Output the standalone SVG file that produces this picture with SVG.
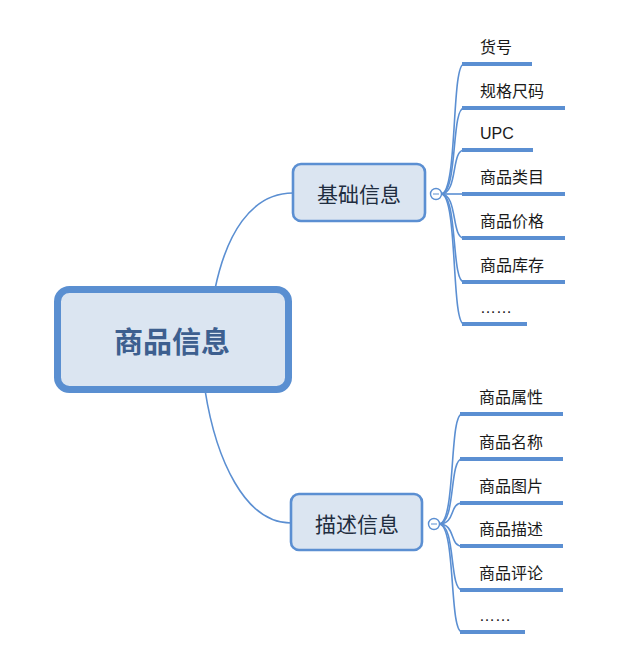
<svg xmlns="http://www.w3.org/2000/svg" width="640" height="663" viewBox="0 0 640 663">
<style>
.conn{fill:none;stroke:#5b8fd2;stroke-width:1.6}
.ul{stroke:#5b8fd2;stroke-width:4;stroke-linecap:butt}
.leaf{font-family:"Liberation Sans","Noto Sans CJK SC",sans-serif;font-size:16px;fill:#1a1a1a}
.sub{fill:#dbe5f1;stroke:#5b8fd2;stroke-width:2.6}
.subt{font-family:"Noto Sans CJK SC",sans-serif;font-size:21px;fill:#1f2d40;text-anchor:middle;dominant-baseline:central}
.tog{fill:#ffffff;stroke:#5b8fd2;stroke-width:1.4}
</style>
<rect width="640" height="663" fill="#ffffff"/>
<g id="connectors">
<path class="conn" d="M215,289 C226,236 250,193 293,193"/>
<path class="conn" d="M205,390 C216,460 245,523 291,523"/>
<path class="conn" d="M441,194 C458,194 451,64 464,64"/>
<path class="conn" d="M441,194 C458,194 451,108 464,108"/>
<path class="conn" d="M441,194 C458,194 451,150 464,150"/>
<path class="conn" d="M441,194 L464,194"/>
<path class="conn" d="M441,194 C458,194 451,238 464,238"/>
<path class="conn" d="M441,194 C458,194 451,282 464,282"/>
<path class="conn" d="M441,194 C458,194 451,324 464,324"/>
<path class="conn" d="M439,524 C456,524 449,414 462,414"/>
<path class="conn" d="M439,524 C456,524 449,459 462,459"/>
<path class="conn" d="M439,524 C456,524 449,503 462,503"/>
<path class="conn" d="M439,524 C456,524 449,546 462,546"/>
<path class="conn" d="M439,524 C456,524 449,590 462,590"/>
<path class="conn" d="M439,524 C456,524 449,632 462,632"/>
</g>
<g id="root">
<rect x="57.5" y="289.5" width="231" height="100" rx="12" fill="#dbe5f1" stroke="#5a8fd1" stroke-width="7"/>
<text x="172" y="340" font-family="Noto Sans CJK SC, sans-serif" font-size="29" font-weight="bold" fill="#3d5f8f" text-anchor="middle" dominant-baseline="central">商品信息</text>
</g>
<g id="basic">
<rect class="sub" x="293" y="164" width="132" height="57" rx="8"/>
<text class="subt" x="359" y="193">基础信息</text>
<circle class="tog" cx="436" cy="194" r="5.5"/>
<line x1="433" y1="194" x2="439" y2="194" stroke="#5b8fd2" stroke-width="1"/>
</g>
<g id="desc">
<rect class="sub" x="291" y="494" width="131" height="56" rx="8"/>
<text class="subt" x="357" y="523">描述信息</text>
<circle class="tog" cx="434" cy="524" r="5.5"/>
<line x1="431" y1="524" x2="437" y2="524" stroke="#5b8fd2" stroke-width="1"/>
</g>
<g id="leaf-huohao"><line class="ul" x1="462" y1="64" x2="532" y2="64"/><text class="leaf" x="480" y="53">货号</text></g>
<g id="leaf-guige"><line class="ul" x1="462" y1="108" x2="565" y2="108"/><text class="leaf" x="480" y="97">规格尺码</text></g>
<g id="leaf-upc"><line class="ul" x1="462" y1="150" x2="533" y2="150"/><text class="leaf" x="480" y="139">UPC</text></g>
<g id="leaf-leimu"><line class="ul" x1="462" y1="194" x2="565" y2="194"/><text class="leaf" x="480" y="183">商品类目</text></g>
<g id="leaf-jiage"><line class="ul" x1="462" y1="238" x2="565" y2="238"/><text class="leaf" x="480" y="227">商品价格</text></g>
<g id="leaf-kucun"><line class="ul" x1="462" y1="282" x2="565" y2="282"/><text class="leaf" x="480" y="271">商品库存</text></g>
<g id="leaf-more1"><line class="ul" x1="462" y1="324" x2="527" y2="324"/><text class="leaf" x="480" y="313">……</text></g>
<g id="leaf-shuxing"><line class="ul" x1="460" y1="414" x2="563" y2="414"/><text class="leaf" x="479" y="403">商品属性</text></g>
<g id="leaf-mingcheng"><line class="ul" x1="460" y1="459" x2="563" y2="459"/><text class="leaf" x="479" y="448">商品名称</text></g>
<g id="leaf-tupian"><line class="ul" x1="460" y1="503" x2="563" y2="503"/><text class="leaf" x="479" y="492">商品图片</text></g>
<g id="leaf-miaoshu"><line class="ul" x1="460" y1="546" x2="563" y2="546"/><text class="leaf" x="479" y="535">商品描述</text></g>
<g id="leaf-pinglun"><line class="ul" x1="460" y1="590" x2="563" y2="590"/><text class="leaf" x="479" y="579">商品评论</text></g>
<g id="leaf-more2"><line class="ul" x1="460" y1="632" x2="525" y2="632"/><text class="leaf" x="479" y="621">……</text></g>
</svg>
